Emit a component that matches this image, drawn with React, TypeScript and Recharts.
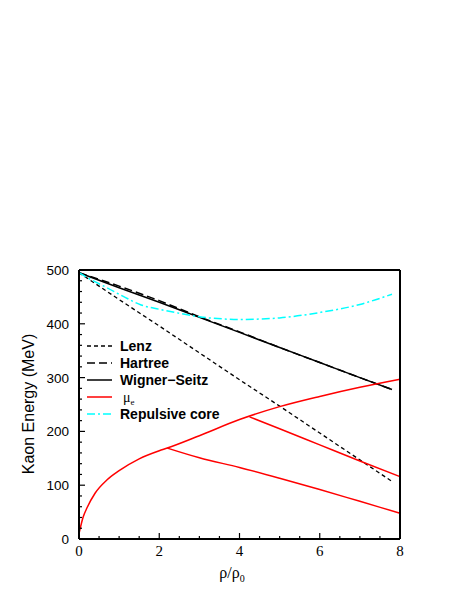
import React from "react";
import { LineChart, Line, XAxis, YAxis, Legend } from "recharts";

// tick positions (minor + major) and labelled ticks
const rhoTicks = [0, 0.5, 1, 1.5, 2, 2.5, 3, 3.5, 4, 4.5, 5, 5.5, 6, 6.5, 7, 7.5, 8];
const rhoLabels = [0, 2, 4, 6, 8];
const energyTicks = [0, 20, 40, 60, 80, 100, 120, 140, 160, 180, 200, 220, 240, 260, 280, 300, 320, 340, 360, 380, 400, 420, 440, 460, 480, 500];
const energyLabels = [0, 100, 200, 300, 400, 500];
const legendOrder = ["Lenz", "Hartree", "Wigner−Seitz", "μe", "Repulsive core"];

// series: rho/rho0 vs kaon energy (MeV)
const lenz = [
  { rho: 0, e: 495 }, { rho: 1, e: 445 }, { rho: 2, e: 396 }, { rho: 3, e: 346 },
  { rho: 4, e: 296 }, { rho: 5, e: 247 }, { rho: 6, e: 197 }, { rho: 7, e: 147 }, { rho: 7.8, e: 107 },
];
const hartree = [
  { rho: 0, e: 495 }, { rho: 1, e: 470 }, { rho: 2, e: 443 }, { rho: 3, e: 413 },
  { rho: 4, e: 385 }, { rho: 5, e: 356 }, { rho: 6, e: 328 }, { rho: 7, e: 300 }, { rho: 7.8, e: 278 },
];
const wignerSeitz = [
  { rho: 0, e: 495 }, { rho: 1, e: 467 }, { rho: 2, e: 440 }, { rho: 3, e: 412 },
  { rho: 4, e: 384 }, { rho: 5, e: 356 }, { rho: 6, e: 328 }, { rho: 7, e: 300 }, { rho: 7.8, e: 278 },
];
const muE = [
  { rho: 0, e: 10 }, { rho: 0.1, e: 40 }, { rho: 0.2, e: 58 }, { rho: 0.4, e: 85 },
  { rho: 0.7, e: 110 }, { rho: 1, e: 127 }, { rho: 1.5, e: 149 }, { rho: 2, e: 164 },
  { rho: 2.2, e: 169 }, { rho: 3, e: 192 }, { rho: 4, e: 222 }, { rho: 5, e: 246 },
  { rho: 6, e: 265 }, { rho: 7, e: 282 }, { rho: 8, e: 297 },
];
const muBranchLow = [
  { rho: 2.2, e: 169 }, { rho: 3, e: 151 }, { rho: 4, e: 133 }, { rho: 5, e: 113 },
  { rho: 6, e: 92 }, { rho: 7, e: 70 }, { rho: 8, e: 48 },
];
const muBranchHigh = [
  { rho: 4.25, e: 227 }, { rho: 5, e: 205 }, { rho: 6, e: 175 }, { rho: 7, e: 145 }, { rho: 8, e: 116 },
];
const repulsiveCore = [
  { rho: 0, e: 495 }, { rho: 0.3, e: 482 }, { rho: 0.7, e: 467 }, { rho: 1.15, e: 449 },
  { rho: 1.55, e: 435 }, { rho: 2, e: 427 }, { rho: 2.4, e: 421 }, { rho: 3, e: 413 },
  { rho: 3.6, e: 409 }, { rho: 4, e: 408 }, { rho: 5, e: 411 }, { rho: 6, e: 421 },
  { rho: 7, e: 436 }, { rho: 7.8, e: 455 },
];

const sans = "'Liberation Sans', Arial, sans-serif";
const serif = "'Liberation Serif', 'Times New Roman', serif";

function XTick(props: any) {
  const { x, y, payload, orientation } = props;
  const major = rhoLabels.includes(payload.value);
  const len = major ? 6 : 3;
  const dir = orientation === "top" ? 1 : -1;
  return (
    <g>
      <line x1={x} x2={x} y1={y} y2={y + dir * len} stroke="#000" strokeWidth={1.2} />
      {major && orientation !== "top" && (
        <text x={x} y={y + 17} textAnchor="middle" fontFamily={serif} fontSize={15} fill="#000">
          {payload.value}
        </text>
      )}
    </g>
  );
}

function YTick(props: any) {
  const { x, y, payload, orientation } = props;
  const major = energyLabels.includes(payload.value);
  const len = major ? 6 : 3;
  const dir = orientation === "right" ? -1 : 1;
  return (
    <g>
      <line x1={x} x2={x + dir * len} y1={y} y2={y} stroke="#000" strokeWidth={1.2} />
      {major && orientation !== "right" && (
        <text x={x - 10} y={y + 5} textAnchor="end" fontFamily={sans} fontSize={13.5} fill="#000">
          {payload.value}
        </text>
      )}
    </g>
  );
}

function KeyBox({ payload }: any) {
  const items = (payload || [])
    .filter((p: any) => legendOrder.includes(p.value))
    .sort((a: any, b: any) => legendOrder.indexOf(a.value) - legendOrder.indexOf(b.value));
  return (
    <div style={{ position: "absolute", left: 87, top: 338 }}>
      <svg width={200} height={items.length * 17 + 4} style={{ display: "block" }}>
        {items.map((p: any, i: number) => {
          const cy = 8 + i * 17;
          const dash = p.payload?.strokeDasharray;
          return (
            <g key={p.value}>
              <line x1={0} x2={25} y1={cy} y2={cy} stroke={p.color} strokeWidth={1.5} strokeDasharray={dash} />
              {p.value === "μe" ? (
                <text x={36} y={cy + 5} fontFamily={serif} fontSize={14} fill="#000">
                  μ<tspan fontSize={9} dy={3}>e</tspan>
                </text>
              ) : (
                <text x={33} y={cy + 5} fontFamily={sans} fontWeight="bold" fontSize={14} fill="#000">
                  {p.value}
                </text>
              )}
            </g>
          );
        })}
      </svg>
    </div>
  );
}

export default function App() {
  return (
    <div style={{ position: "absolute", left: 0, top: 0, background: "#fff" }}>
      <LineChart width={469} height={607} margin={{ top: 269, right: 68, bottom: 38, left: 39 }}>
        <XAxis
          dataKey="rho"
          type="number"
          domain={[0, 8]}
          ticks={rhoTicks}
          interval={0}
          height={30}
          tickSize={0}
          tickMargin={0}
          tickLine={false}
          axisLine={{ stroke: "#000", strokeWidth: 2 }}
          tick={<XTick orientation="bottom" />}
          label={{
            content: () => (
              <text x={232} y={578} textAnchor="middle" fontFamily={serif} fontSize={16} fill="#000">
                ρ/ρ<tspan fontSize={10} dy={4}>0</tspan>
              </text>
            ),
          }}
        />
        <XAxis
          xAxisId="top"
          orientation="top"
          dataKey="rho"
          type="number"
          domain={[0, 8]}
          ticks={rhoTicks}
          interval={0}
          height={1}
          tickSize={0}
          tickMargin={0}
          tickLine={false}
          axisLine={{ stroke: "#000", strokeWidth: 2 }}
          tick={<XTick orientation="top" />}
        />
        <YAxis
          type="number"
          domain={[0, 500]}
          ticks={energyTicks}
          interval={0}
          width={40}
          tickSize={0}
          tickMargin={0}
          tickLine={false}
          axisLine={{ stroke: "#000", strokeWidth: 2 }}
          tick={<YTick orientation="left" />}
          label={{
            content: () => (
              <text
                x={34}
                y={404}
                transform="rotate(-90 34 404)"
                textAnchor="middle"
                fontFamily={sans}
                fontSize={16}
                fill="#000"
              >
                Kaon Energy (MeV)
              </text>
            ),
          }}
        />
        <YAxis
          yAxisId="right"
          orientation="right"
          type="number"
          domain={[0, 500]}
          ticks={energyTicks}
          interval={0}
          width={1}
          tickSize={0}
          tickMargin={0}
          tickLine={false}
          axisLine={{ stroke: "#000", strokeWidth: 2 }}
          tick={<YTick orientation="right" />}
        />
        <Legend
          layout="horizontal"
          verticalAlign="middle"
          align="center"
          content={<KeyBox />}
          wrapperStyle={{ position: "absolute", left: 0, top: 0, width: 1, height: 1 }}
        />
        <Line data={lenz} dataKey="e" name="Lenz" stroke="#000" strokeWidth={1.3} strokeDasharray="4 3" dot={false} type="linear" isAnimationActive={false} />
        <Line data={hartree} dataKey="e" name="Hartree" stroke="#000" strokeWidth={1.5} strokeDasharray="8 4" dot={false} type="monotone" isAnimationActive={false} />
        <Line data={wignerSeitz} dataKey="e" name="Wigner−Seitz" stroke="#000" strokeWidth={1.5} dot={false} type="monotone" isAnimationActive={false} />
        <Line data={muE} dataKey="e" name="μe" stroke="#ff0000" strokeWidth={1.5} dot={false} type="monotone" isAnimationActive={false} />
        <Line data={repulsiveCore} dataKey="e" name="Repulsive core" stroke="#00ffff" strokeWidth={1.5} strokeDasharray="8 3 2 3" dot={false} type="monotone" isAnimationActive={false} />
        <Line data={muBranchLow} dataKey="e" name="μe branch 1" legendType="none" stroke="#ff0000" strokeWidth={1.5} dot={false} type="monotone" isAnimationActive={false} />
        <Line data={muBranchHigh} dataKey="e" name="μe branch 2" legendType="none" stroke="#ff0000" strokeWidth={1.5} dot={false} type="monotone" isAnimationActive={false} />
      </LineChart>
    </div>
  );
}
